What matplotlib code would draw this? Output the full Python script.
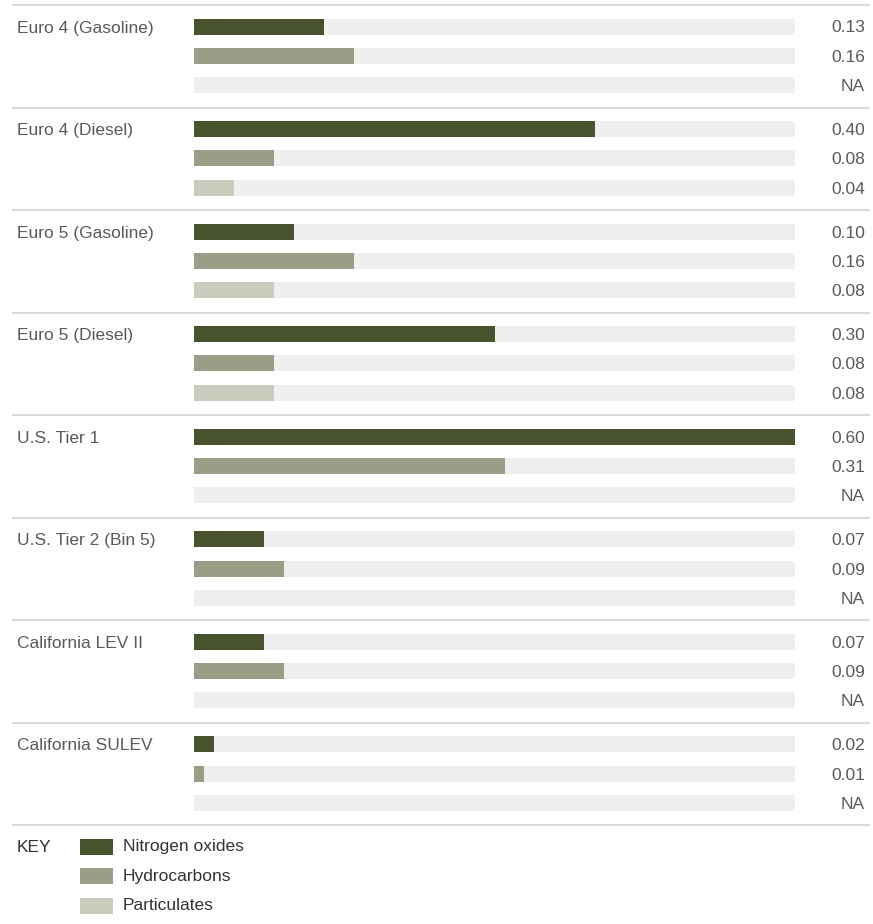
import matplotlib
matplotlib.use("Agg")
import matplotlib.pyplot as plt
from matplotlib.patches import Rectangle

plt.rcParams["font.family"] = ["Liberation Sans", "DejaVu Sans"]

standards = ["Euro 4 (Gasoline)", "Euro 4 (Diesel)", "Euro 5 (Gasoline)", "Euro 5 (Diesel)",
             "U.S. Tier 1", "U.S. Tier 2 (Bin 5)", "California LEV II", "California SULEV"]
nitrogen_oxides = [0.13, 0.40, 0.10, 0.30, 0.60, 0.07, 0.07, 0.02]
hydrocarbons = [0.16, 0.08, 0.16, 0.08, 0.31, 0.09, 0.09, 0.01]
particulates = [None, 0.04, 0.08, 0.08, None, None, None, None]
series_names = ["Nitrogen oxides", "Hydrocarbons", "Particulates"]
series_colors = ["#48522c", "#989f86", "#c9cbbd"]
x_max = 0.6

W, H = 873, 924
fig = plt.figure(figsize=(W / 100, H / 100), dpi=100)
ax = fig.add_axes([0, 0, 1, 1])
left_px, right_px = 194, 795
ppu = (right_px - left_px) / x_max
ax.set_xlim(-left_px / ppu, (W - left_px) / ppu)
ax.set_ylim(H, 0)
ax.axis("off")

def px(x):
    return (x - left_px) / ppu

first_center = 26.5
group_step = 102.55
bar_step = 29.3
bar_h = 16
text_color = "#5a5a5a"
fs = 12.5

series = [nitrogen_oxides, hydrocarbons, particulates]
for g, name in enumerate(standards):
    base = first_center + g * group_step
    ax.text(px(17), base + 1.5, name, ha="left", va="center", fontsize=fs, color=text_color)
    for j, vals in enumerate(series):
        y = base + j * bar_step
        ax.barh(y, x_max, height=bar_h, left=0, color="#efefef", linewidth=0)
        v = vals[g]
        if v is not None:
            ax.barh(y, v, height=bar_h, left=0, color=series_colors[j], linewidth=0)
            label = f"{v:.2f}"
        else:
            label = "NA"
        ax.text(px(865), y + 1.5, label, ha="right", va="center", fontsize=fs, color=text_color)

for g in range(len(standards) + 1):
    y = first_center - 21.5 + g * group_step
    ax.plot([px(12), px(870)], [y, y], color="#d6dbe2", lw=1.5, solid_capstyle="butt")

# Key
ax.text(px(17), 847.5, "KEY", ha="left", va="center", fontsize=fs, color="#333333")
for j, (nm, c) in enumerate(zip(series_names, series_colors)):
    yc = 847 + j * 29.3
    ax.add_patch(Rectangle((px(80), yc - 8), 33 / ppu, 16, color=c, linewidth=0))
    ax.text(px(123), yc, nm, ha="left", va="center", fontsize=fs, color="#333333")

fig.savefig("out.png", dpi=100)
